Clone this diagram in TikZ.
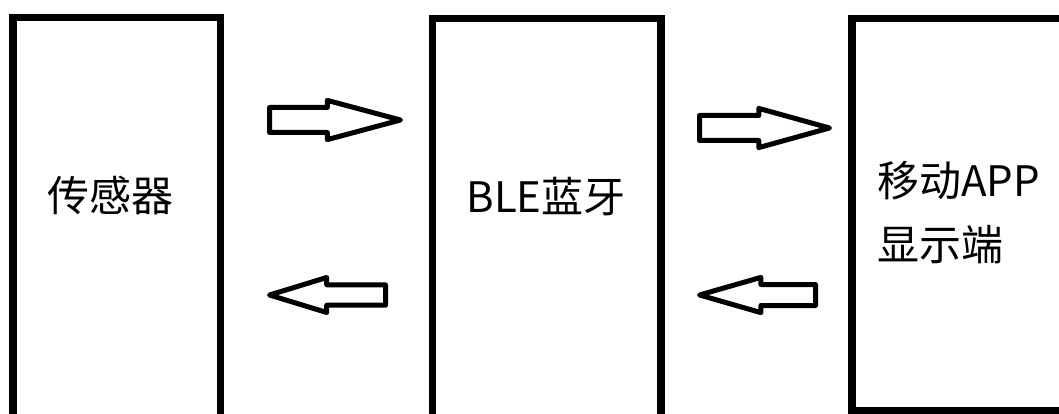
\documentclass[tikz,border=0pt]{standalone}
\usepackage{fontspec}
\setmainfont{Noto Sans CJK SC}
\usetikzlibrary{shapes.arrows}

\begin{document}
\begin{tikzpicture}[x=1pt, y=-1pt,
    box/.style={rectangle, draw=black, line width=7.5pt, inner sep=0pt},
    blk/.style={single arrow, draw=black, line width=5pt, line join=round,
        inner xsep=0pt, outer sep=0pt, single arrow head indent=0pt, anchor=tail},
    lbl/.style={font=\fontsize{42pt}{64pt}\selectfont, inner sep=0pt}]
    \useasboundingbox (0, 0) rectangle (1059, 414);
    \clip (0, 0) rectangle (1059, 414);
    \node[box, minimum width=207.5pt, minimum height=412.5pt] (s) at (116.75, 223.75) {};
    \node[box, minimum width=228.5pt, minimum height=411.5pt] (b) at (546.75, 224.25) {};
    \node[box, minimum width=228pt, minimum height=392.5pt] (m) at (966, 214.75) {};
    \node[lbl, anchor=base] (sl) at (110, 211) {传感器};
    \node[lbl, anchor=base] (bl) at (546, 212) {BLE蓝牙};
    \node[lbl, anchor=west, align=left] (ml) at (877, 213) {移动APP\\显示端};
    \node[blk, inner ysep=10pt, minimum width=35pt, minimum height=131pt,
        single arrow tip angle=30] (a1) at (269.5, 120) {};
    \node[blk, inner ysep=7.5pt, minimum width=35pt, minimum height=116pt,
        single arrow tip angle=34, shape border rotate=180] (a2) at (385.5, 295) {};
    \node[blk, inner ysep=10pt, minimum width=37pt, minimum height=130pt,
        single arrow tip angle=31] (a3) at (699.5, 128) {};
    \node[blk, inner ysep=8pt, minimum width=35pt, minimum height=116pt,
        single arrow tip angle=32, shape border rotate=180] (a4) at (815.5, 295) {};
\end{tikzpicture}
\end{document}
